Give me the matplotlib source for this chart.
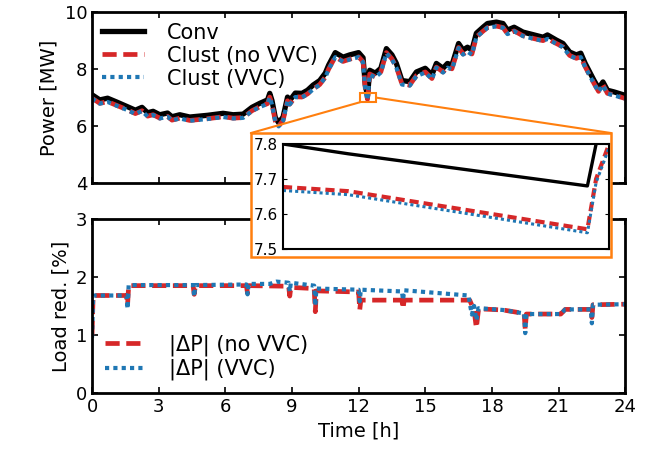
import numpy as np
import matplotlib
matplotlib.use('Agg')
from matplotlib import pyplot as plt
from matplotlib.patches import Rectangle, ConnectionPatch

# Feeder power over the day (MW)
t_main = [0.0, 0.35, 0.7, 1.1, 1.6, 1.95, 2.25, 2.5, 2.75, 3.05, 3.4, 3.6, 3.95, 4.4, 5.2,
          5.9, 6.35, 6.8, 7.2, 7.55, 7.9, 8.0, 8.1, 8.25, 8.4, 8.6, 8.8, 8.9, 9.15, 9.45,
          9.7, 9.95, 10.25, 10.5, 10.65, 10.95, 11.3, 11.6, 12.0, 12.2, 12.3, 12.4, 12.5,
          12.75, 13.0, 13.25, 13.5, 13.7, 13.95, 14.3, 14.6, 15.0, 15.3, 15.5, 15.8, 16.0,
          16.2, 16.5, 16.7, 16.9, 17.1, 17.3, 17.6, 17.8, 18.2, 18.5, 18.7, 19.0, 19.4,
          19.9, 20.3, 20.5, 20.9, 21.2, 21.5, 21.8, 22.0, 22.2, 22.6, 22.8, 23.0, 23.2,
          23.5, 24.0]
p_conv = [7.10, 6.92, 6.98, 6.85, 6.68, 6.56, 6.66, 6.47, 6.52, 6.40, 6.46, 6.33, 6.40, 6.32, 6.38,
          6.45, 6.40, 6.42, 6.66, 6.80, 6.92, 7.15, 6.90, 6.30, 6.12, 6.32, 7.02, 6.90, 7.16, 7.15,
          7.26, 7.44, 7.60, 7.86, 8.14, 8.58, 8.42, 8.50, 8.58, 8.40, 7.45, 7.05, 7.96,
          7.86, 8.03, 8.72, 8.50, 8.20, 7.60, 7.56, 7.90, 8.03, 7.80, 8.20, 8.03, 8.20,
          8.14, 8.90, 8.67, 8.77, 8.67, 9.26, 9.47, 9.60, 9.65, 9.60, 9.37, 9.47, 9.30,
          9.20, 9.12, 9.20, 9.02, 8.90, 8.60, 8.50, 8.56, 8.20, 7.60, 7.33, 7.55, 7.26,
          7.20, 7.08]
p_clust = [6.98, 6.80, 6.86, 6.73, 6.57, 6.44, 6.54, 6.35, 6.40, 6.28, 6.34, 6.21, 6.28, 6.20, 6.26,
           6.33, 6.28, 6.30, 6.54, 6.68, 6.79, 7.02, 6.77, 6.18, 6.00, 6.20, 6.89, 6.77, 7.03, 7.02,
           7.13, 7.30, 7.46, 7.72, 8.00, 8.43, 8.27, 8.35, 8.43, 8.26, 7.33, 6.94, 7.83,
           7.73, 7.90, 8.58, 8.36, 8.07, 7.48, 7.44, 7.77, 7.90, 7.67, 8.07, 7.90, 8.07,
           8.01, 8.76, 8.53, 8.63, 8.53, 9.13, 9.33, 9.46, 9.51, 9.46, 9.24, 9.34, 9.17,
           9.07, 9.00, 9.07, 8.90, 8.78, 8.48, 8.38, 8.43, 8.08, 7.49, 7.22, 7.44, 7.15,
           7.09, 6.97]
p_clust_vvc = [6.97, 6.79, 6.85, 6.72, 6.56, 6.43, 6.53, 6.34, 6.39, 6.27, 6.33, 6.20, 6.27, 6.19, 6.25,
               6.32, 6.27, 6.29, 6.53, 6.67, 6.78, 7.01, 6.76, 6.17, 5.99, 6.19, 6.88, 6.76, 7.02, 7.01,
               7.12, 7.29, 7.45, 7.71, 7.99, 8.42, 8.26, 8.34, 8.42, 8.24, 7.31, 6.92, 7.81,
               7.71, 7.88, 8.56, 8.34, 8.05, 7.46, 7.42, 7.75, 7.88, 7.65, 8.05, 7.88, 8.05,
               7.99, 8.74, 8.51, 8.61, 8.51, 9.12, 9.32, 9.45, 9.50, 9.45, 9.23, 9.33, 9.16,
               9.06, 8.99, 9.06, 8.89, 8.77, 8.47, 8.37, 8.42, 8.07, 7.48, 7.21, 7.43, 7.14,
               7.08, 6.96]

# zoomed window around the 12:20 dip
t_zoom = [12.300, 12.330, 12.440, 12.444, 12.450]
z_conv = [7.800, 7.772, 7.680, 7.800, 7.900]
z_clust = [7.677, 7.665, 7.556, 7.700, 7.800]
z_clust_vvc = [7.667, 7.655, 7.546, 7.690, 7.790]

# load reduction (%)
t_red = [0.0, 0.05, 1.55, 1.6, 1.65, 4.55, 4.6, 4.65, 6.95, 7.0, 7.05, 8.85, 8.9, 8.95,
         10.0, 10.05, 10.1, 12.0, 12.05, 12.1, 13.95, 14.0, 14.05, 17.0, 17.2, 17.3,
         17.4, 18.5, 19.45, 19.5, 19.55, 21.1, 21.3, 22.45, 22.5, 22.55, 24.0]
red_novvc = [1.00, 1.68, 1.68, 1.52, 1.85, 1.85, 1.70, 1.85, 1.85, 1.72, 1.85, 1.84, 1.67, 1.82,
             1.80, 1.40, 1.76, 1.74, 1.43, 1.60, 1.60, 1.45, 1.60, 1.60, 1.42, 1.12,
             1.45, 1.43, 1.37, 1.10, 1.36, 1.36, 1.44, 1.44, 1.30, 1.52, 1.53]
t_red_vvc = [0.0, 0.05, 1.55, 1.6, 1.65, 4.55, 4.6, 4.65, 6.95, 7.0, 7.05, 8.0, 8.3, 8.85,
             8.9, 8.95, 10.0, 10.05, 10.1, 12.0, 12.05, 12.1, 13.95, 14.0, 14.05, 15.0,
             16.95, 17.0, 17.1, 17.2, 17.3, 17.4, 18.5, 19.45, 19.5, 19.55, 21.1, 21.3,
             22.45, 22.5, 22.55, 24.0]
red_vvc = [0.95, 1.68, 1.68, 1.45, 1.86, 1.86, 1.66, 1.86, 1.87, 1.70, 1.88, 1.88, 1.92, 1.90,
           1.75, 1.90, 1.85, 1.50, 1.80, 1.78, 1.58, 1.78, 1.75, 1.60, 1.77, 1.74,
           1.68, 1.55, 1.35, 1.50, 1.25, 1.46, 1.43, 1.37, 1.03, 1.36, 1.36, 1.44,
           1.44, 1.20, 1.52, 1.53]

hours = [0, 3, 6, 9, 12, 15, 18, 21, 24]

c_red = '#d62728'
c_blue = '#1f77b4'
c_orange = '#ff7f0e'

dash = (0, (3, 1.4))
dots = (0, (1, 1))

plt.rcParams['font.family'] = 'DejaVu Sans'
fig = plt.figure(figsize=(6.55, 4.66), dpi=100)
ax1 = fig.add_axes([0.1405, 0.607, 0.814, 0.367])
ax2 = fig.add_axes([0.1405, 0.157, 0.814, 0.373])

for ax in (ax1, ax2):
    ax.tick_params(direction='in', top=True, right=True, labelsize=13, width=1.2, length=4)
    for s in ax.spines.values():
        s.set_linewidth(2)
    ax.set_xlim(0, 24)
    ax.set_xticks(hours)

ax1.plot(t_main, p_conv, color='black', lw=3.8, label='Conv')
ax1.plot(t_main, p_clust, color=c_red, lw=3.4, ls=dash, label='Clust (no VVC)')
ax1.plot(t_main, p_clust_vvc, color=c_blue, lw=3.0, ls=dots, label='Clust (VVC)')
ax1.set_ylim(4, 10)
ax1.set_yticks([4, 6, 8, 10])
ax1.tick_params(labelbottom=False)
ax1.set_ylabel('Power [MW]', fontsize=14)
ax1.legend(loc='upper left', frameon=False, fontsize=15, handlelength=2.0,
           borderaxespad=0.1, labelspacing=0.15, handletextpad=1.1)

ax2.plot(t_red, red_novvc, color=c_red, lw=3.4, ls=dash, label='|ΔP| (no VVC)')
ax2.plot(t_red_vvc, red_vvc, color=c_blue, lw=3.0, ls=dots, label='|ΔP| (VVC)')
ax2.set_ylim(0, 3)
ax2.set_yticks([0, 1, 2, 3])
ax2.set_ylabel('Load red. [%]', fontsize=14)
ax2.set_xlabel('Time [h]', fontsize=14)
ax2.legend(loc='lower left', frameon=False, fontsize=15, handlelength=2.0,
           borderaxespad=0.2, labelspacing=0.15, handletextpad=1.1)

# marker around the zoomed region on the power axis
ax1.add_patch(Rectangle((12.07, 6.84), 0.72, 0.32, fill=False, ec=c_orange, lw=1.5, zorder=5))

# white box that holds the inset
box = Rectangle((0.383, 0.4485), 0.550, 0.266, transform=fig.transFigure,
                fc='white', ec=c_orange, lw=1.8, zorder=10)
fig.patches.append(box)

ax3 = fig.add_axes([0.432, 0.466, 0.498, 0.225], zorder=11)
ax3.plot(t_zoom, z_conv, color='black', lw=2.4)
ax3.plot(t_zoom, z_clust, color=c_red, lw=3.0, ls=(0, (2.2, 1.2)))
ax3.plot(t_zoom, z_clust_vvc, color=c_blue, lw=2.2, ls=dots)
ax3.set_xlim(12.30, 12.45)
ax3.set_ylim(7.5, 7.8)
ax3.set_yticks([7.5, 7.6, 7.7, 7.8])
ax3.set_xticks([])
ax3.tick_params(direction='in', right=True, labelsize=11, length=3)
for s in ax3.spines.values():
    s.set_linewidth(1.5)

for xa, xb in [((12.07, 6.84), (0.383, 0.7145)), ((12.79, 7.0), (0.933, 0.7145))]:
    con = ConnectionPatch(xyA=xa, coordsA='data', axesA=ax1,
                          xyB=xb, coordsB='figure fraction',
                          color=c_orange, lw=1.5, zorder=4)
    fig.add_artist(con)

fig.savefig('out.png', dpi=100)
